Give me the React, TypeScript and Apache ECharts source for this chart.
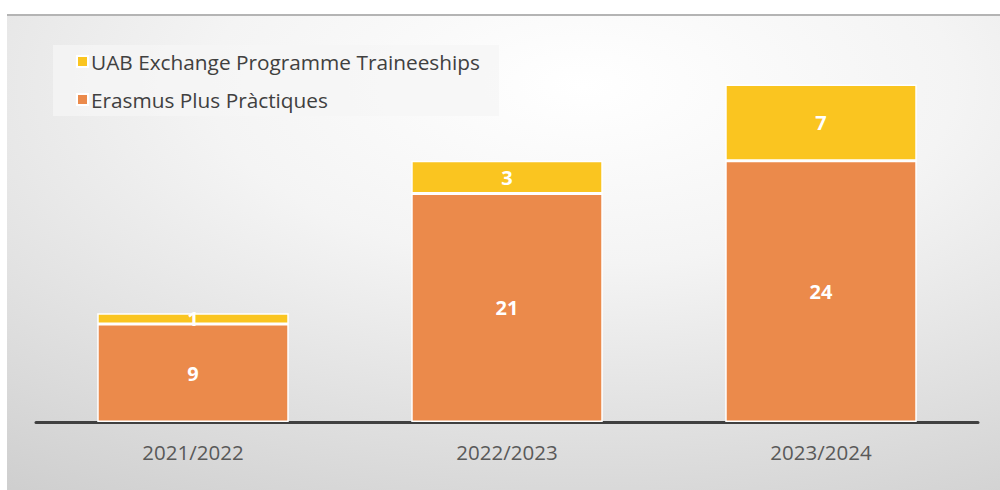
import React, { useEffect, useRef } from "react";
import * as echarts from "echarts";

const categories = ["2021/2022", "2022/2023", "2023/2024"];
const erasmusValues = [9, 21, 24];
const uabValues = [1, 3, 7];
const seriesNames = ["UAB Exchange Programme Traineeships", "Erasmus Plus Pràctiques"];

const FONT = "'Open Sans', 'Noto Sans', sans-serif";

export default function App() {
  const ref = useRef<HTMLDivElement>(null);
  useEffect(() => {
    if (!ref.current) return;
    const chart = echarts.init(ref.current, undefined, { renderer: "svg" });
    chart.setOption({
      animation: false,
      graphic: [
        {
          type: "rect",
          z: -10,
          silent: true,
          shape: { x: 7, y: 14, width: 993, height: 476 },
          style: {
            fill: new echarts.graphic.RadialGradient(0.58, 0.15, 1.25, [
              { offset: 0, color: "#ffffff" },
              { offset: 0.3, color: "#f4f4f4" },
              { offset: 1, color: "#c2c2c2" },
            ]),
          },
        },
        {
          type: "line",
          z: -9,
          silent: true,
          shape: { x1: 7, y1: 15, x2: 1000, y2: 15 },
          style: { stroke: "#b4b4b4", lineWidth: 2 },
        },
        {
          type: "rect",
          z: -8,
          silent: true,
          shape: { x: 53, y: 45, width: 446, height: 71 },
          style: { fill: "rgba(245,245,245,0.75)" },
        },
      ],
      legend: {
        data: seriesNames,
        orient: "vertical",
        left: 71,
        top: 46,
        itemWidth: 11,
        itemHeight: 11,
        itemGap: 17,
        icon: "rect",
        textStyle: { fontFamily: FONT, fontSize: 20.8, color: "#404040", padding: [0, 0, 0, -2] },
      },
      grid: { left: 36, right: 22, top: 41, bottom: 68 },
      xAxis: {
        type: "category",
        data: categories,
        axisLine: { show: true, lineStyle: { color: "#404040", width: 3 } },
        axisTick: { show: false },
        axisLabel: { fontFamily: FONT, fontSize: 20.5, color: "#595959", margin: 19 },
      },
      yAxis: {
        type: "value",
        min: 0,
        max: 35,
        show: false,
        splitLine: { show: false },
      },
      series: [
        {
          name: seriesNames[1],
          type: "bar",
          stack: "total",
          data: erasmusValues,
          barWidth: "61%",
          itemStyle: { color: "#EB8A4B", borderColor: "#ffffff", borderWidth: 1.5 },
          label: {
            show: true,
            position: "inside",
            color: "#ffffff",
            fontFamily: FONT,
            fontWeight: "bold",
            fontSize: 20,
          },
        },
        {
          name: seriesNames[0],
          type: "bar",
          stack: "total",
          data: uabValues,
          barWidth: "61%",
          itemStyle: { color: "#FAC520", borderColor: "#ffffff", borderWidth: 1.5 },
          label: {
            show: true,
            position: "inside",
            color: "#ffffff",
            fontFamily: FONT,
            fontWeight: "bold",
            fontSize: 20,
          },
        },
      ],
    });
    return () => chart.dispose();
  }, []);
  return (
    <div
      ref={ref}
      style={{ position: "fixed", left: 0, top: 0, width: 1000, height: 490, background: "#ffffff" }}
    />
  );
}
